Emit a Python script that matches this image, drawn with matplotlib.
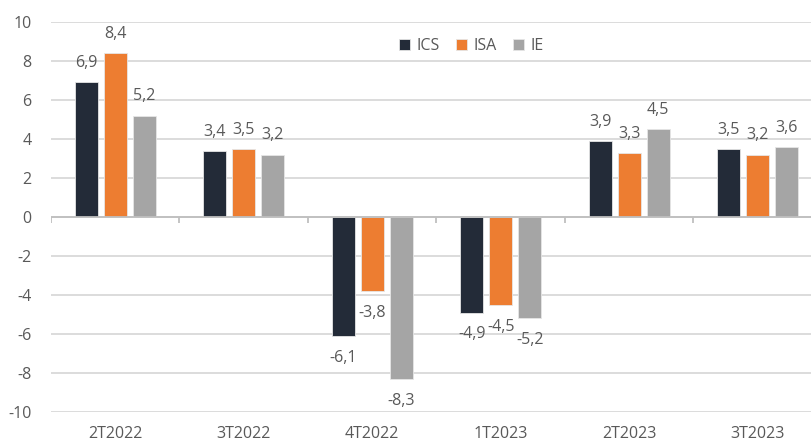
import matplotlib.pyplot as plt
import numpy as np

plt.rcParams['font.family'] = ['Open Sans', 'DejaVu Sans']
plt.rcParams['axes.unicode_minus'] = False

categories = ['2T2022', '3T2022', '4T2022', '1T2023', '2T2023', '3T2023']
ics = [6.9, 3.4, -6.1, -4.9, 3.9, 3.5]
isa = [8.4, 3.5, -3.8, -4.5, 3.3, 3.2]
ie = [5.2, 3.2, -8.3, -5.2, 4.5, 3.6]

series = [('ICS', ics, '#232b38'), ('ISA', isa, '#ed7d31'), ('IE', ie, '#a5a5a5')]
txt = '#595959'

fig = plt.figure(figsize=(8.11, 4.44), dpi=100)
# axes runs a little past the right edge, as in the reference
ax = fig.add_axes([51/811, 32/444, 771/811, 390/444])

x = np.arange(len(categories))
w = 0.18
step = 0.226
for k, (name, vals, col) in enumerate(series):
    pos = x + (k - 1) * step
    ax.bar(pos, vals, width=w, color=col, edgecolor='#e6e6e6', linewidth=0.6,
           label=name, zorder=3)
    for p, v in zip(pos, vals):
        off = 8 if v >= 0 else -10
        ax.annotate(('%.1f' % v).replace('.', ','), (p, v), xytext=(0, off),
                    textcoords='offset points', ha='center',
                    va='bottom' if v >= 0 else 'top', fontsize=11.5, color=txt)

ax.set_xlim(-0.5, len(categories) - 0.5)
ax.set_ylim(-10, 10)
ax.set_yticks(np.arange(-10, 11, 2))
ax.yaxis.grid(True, color='#d9d9d9', linewidth=1.3, zorder=0)
ax.axhline(0, color='#bfbfbf', linewidth=1.3, zorder=4)
ax.vlines(np.arange(len(categories) + 1) - 0.5, -0.3, 0, color='#bfbfbf',
          linewidth=1.3, zorder=4)
for s in ax.spines.values():
    s.set_visible(False)
ax.set_xticks(x)
ax.set_xticklabels(categories)
ax.tick_params(axis='both', length=0, labelsize=11.5, colors=txt)
ax.tick_params(axis='x', pad=10)
ax.tick_params(axis='y', pad=14)

leg = ax.legend(loc='upper center', bbox_to_anchor=(0.545, 0.995), ncol=3,
                frameon=False, fontsize=11.5, handlelength=0.7, handleheight=0.7,
                columnspacing=1.0, handletextpad=0.4)
for t in leg.get_texts():
    t.set_color(txt)

fig.savefig('out.png', dpi=100)
